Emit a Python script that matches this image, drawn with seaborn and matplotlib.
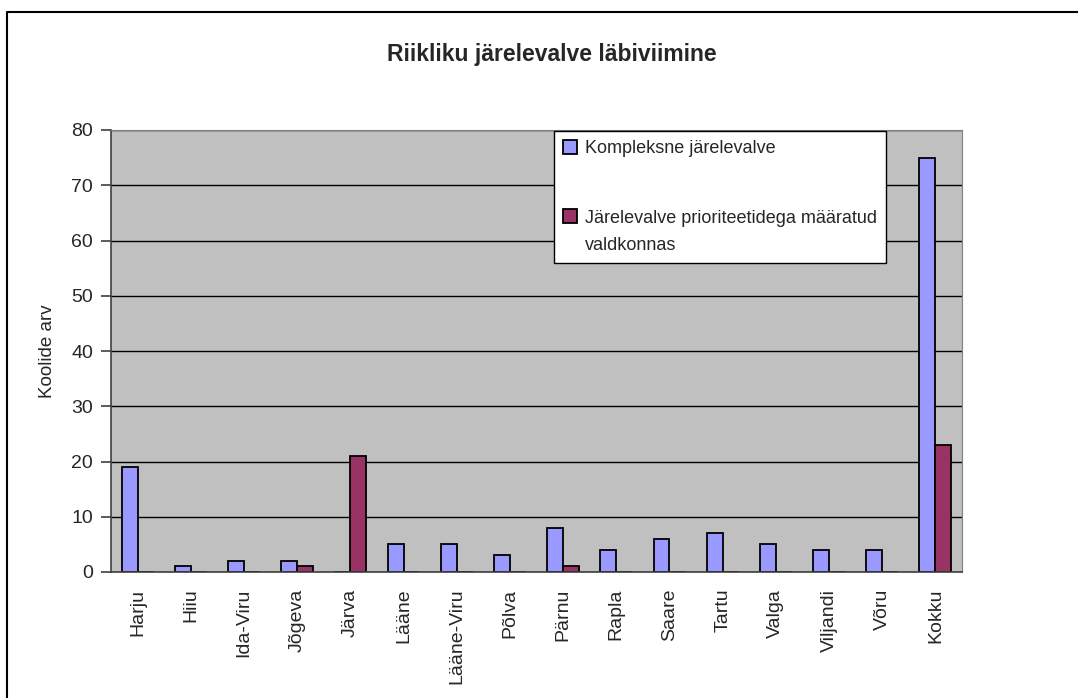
import pandas as pd
import numpy as np
import matplotlib.pyplot as plt
import seaborn as sns
from matplotlib.lines import Line2D
from matplotlib.patches import Rectangle
from matplotlib.legend_handler import HandlerPatch

maakonnad = ["Harju", "Hiiu", "Ida-Viru", "Jõgeva", "Järva", "Lääne", "Lääne-Viru", "Põlva",
             "Pärnu", "Rapla", "Saare", "Tartu", "Valga", "Viljandi", "Võru", "Kokku"]
kompleksne = [19, 1, 2, 2, 0, 5, 5, 3, 8, 4, 6, 7, 5, 4, 4, 75]
prioriteedid = [0, 0, 0, 1, 21, 0, 0, 0, 1, 0, 0, 0, 0, 0, 0, 23]
seeria_nimed = ["Kompleksne järelevalve", "Järelevalve prioriteetidega määratud\nvaldkonnas"]
varvid = ["#9999FF", "#993366"]

df = pd.DataFrame({
    "maakond": maakonnad * 2,
    "arv": kompleksne + prioriteedid,
    "liik": [seeria_nimed[0]] * len(maakonnad) + [seeria_nimed[1]] * len(maakonnad),
})

sns.set_style("white")
plt.rcParams['font.family'] = ['Liberation Sans Narrow', 'Liberation Sans', 'DejaVu Sans']

fig = plt.figure(figsize=(10.78, 6.98), dpi=100)
ax = fig.add_axes([111 / 1078, 1 - 572 / 698, (962 - 111) / 1078, (572 - 130) / 698])

sns.barplot(data=df, x="maakond", y="arv", hue="liik", palette=varvid, width=0.6,
            edgecolor="black", linewidth=1.3, saturation=1, ax=ax)

ax.set_facecolor("#C0C0C0")
ax.set_xlim(-0.5, len(maakonnad) - 0.5)
ax.set_ylim(0, 80)
ax.set_yticks(np.arange(0, 81, 10))
ax.yaxis.grid(True, color="black", linewidth=1)
ax.set_axisbelow(True)

for s in ["top", "right"]:
    ax.spines[s].set_color("#808080")
for s in ["left", "bottom"]:
    ax.spines[s].set_color("#404040")
    ax.spines[s].set_linewidth(1.2)

ax.set_xticks(np.arange(len(maakonnad)))
ax.set_xticklabels(maakonnad, rotation=90, fontsize=14)
ax.set_xticks(np.arange(-0.5, len(maakonnad)), minor=True)
ax.tick_params(axis="x", which="major", length=0, pad=12)
ax.tick_params(axis="x", which="minor", length=6, color="#404040", direction="out")
ax.tick_params(axis="y", length=7, width=1.2, color="#404040", direction="out", labelsize=14,
               pad=6, left=True)
ax.set_xlabel("")
ax.set_ylabel("Koolide arv", fontsize=13.5, labelpad=11)

fig.suptitle("Riikliku järelevalve läbiviimine", x=552 / 1078, y=1 - 55 / 698, fontsize=16.5,
             fontweight="bold", va="center")


# legendi ruut tõstetakse mitmerealise kirje esimese rea kõrgusele
def ylemine_ruut(legend, orig_handle, xdescent, ydescent, width, height, fontsize):
    return Rectangle((-xdescent, -ydescent + 11.5), width, height)


vana = ax.get_legend()
handles = list(vana.legend_handles)
labels = [t.get_text() for t in vana.get_texts()]
hmap = {handles[1]: HandlerPatch(patch_func=ylemine_ruut)}
leg = ax.legend(handles, labels, loc="upper left", bbox_to_anchor=(554 / 1078, 1 - 131 / 698),
                bbox_transform=fig.transFigure, frameon=True, fancybox=False, shadow=False,
                framealpha=1, edgecolor="black", fontsize=13, labelspacing=2.9,
                handlelength=0.8, handleheight=0.8, handletextpad=0.4, borderpad=0.5,
                borderaxespad=0, handler_map=hmap)
for t in leg.get_texts():
    t.set_linespacing(1.8)
for h in leg.legend_handles:
    h.set_edgecolor("black")
    h.set_linewidth(1.3)
leg.get_frame().set_linewidth(1)
leg.get_frame().set_facecolor("white")

# raam ümber joonise (ainult vasak ja ülemine serv on näha)
fig.add_artist(Line2D([7 / 1078, 7 / 1078, 1.0], [0.0, 1 - 12 / 698, 1 - 12 / 698],
                      transform=fig.transFigure, color="black", linewidth=1.5))

fig.savefig("out.png", dpi=100)
